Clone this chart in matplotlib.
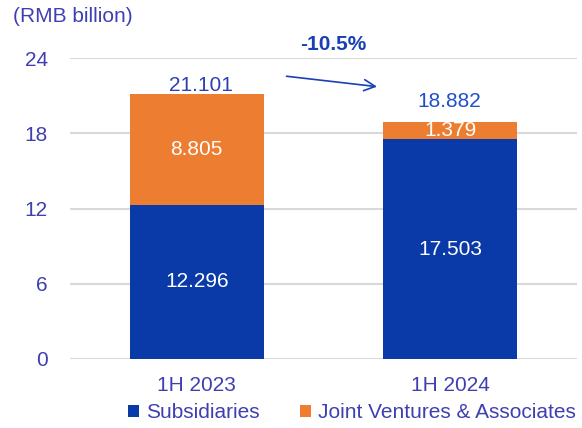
import matplotlib
matplotlib.use("Agg")
import matplotlib.pyplot as plt

plt.rcParams['font.family'] = ['Liberation Sans', 'DejaVu Sans']

categories = ["1H 2023", "1H 2024"]
subsidiaries = [12.296, 17.503]
joint_ventures = [8.805, 1.379]
totals = [21.101, 18.882]
change_label = "-10.5%"
y_ticks = [0, 6, 12, 18, 24]
series_names = ["Subsidiaries", "Joint Ventures & Associates"]

blue = "#0A3AA8"
orange = "#ED7D31"
text_col = "#3F3FB2"
grid_col = "#D9D9D9"
fs = 15

fig = plt.figure(figsize=(5.82, 4.28), dpi=100)
ax = fig.add_axes([70 / 582, 69 / 428, 507 / 582, 301 / 428])

x = list(range(len(categories)))
width = 0.53
b1 = ax.bar(x, subsidiaries, width, color=blue, label=series_names[0], zorder=3)
b2 = ax.bar(x, joint_ventures, width, bottom=subsidiaries, color=orange,
            label=series_names[1], zorder=3)

ax.set_xlim(-0.5, 1.5)
ax.set_ylim(0, 24)
ax.set_yticks(y_ticks)
ax.set_yticklabels([str(t) for t in y_ticks])
ax.set_xticks(x)
ax.set_xticklabels(categories)
ax.tick_params(axis='both', length=0, labelsize=fs, colors=text_col)
ax.tick_params(axis='y', pad=16)
ax.tick_params(axis='x', pad=12)
for s in ax.spines.values():
    s.set_visible(False)
ax.yaxis.grid(True, color=grid_col, linewidth=1.5, zorder=0)
ax.set_axisbelow(True)

# segment values inside the bars
for i in x:
    ax.text(i, subsidiaries[i] / 2, f"{subsidiaries[i]:.3f}", ha='center', va='center',
            color='white', fontsize=fs, zorder=4)
    ax.text(i, subsidiaries[i] + joint_ventures[i] / 2, f"{joint_ventures[i]:.3f}",
            ha='center', va='center', color='white', fontsize=fs, zorder=4)

# totals above the bars
total_cols = ["#3040B0", "#1F4FC8"]
total_dx = [0.016, -0.005]
total_gap = [0.3, 1.22]
for i in x:
    ax.text(i + total_dx[i], totals[i] + total_gap[i], f"{totals[i]:.3f}", ha='center',
            va='baseline', color=total_cols[i], fontsize=fs, zorder=4)

# change arrow and label
ax.annotate("", xy=(0.722, 21.69), xytext=(0.343, 22.57),
            arrowprops=dict(arrowstyle="->,head_length=0.8,head_width=0.4",
                            color="#1A40B8", lw=1.2),
            annotation_clip=False)
ax.text(0.54, 25.1, change_label, ha='center', va='center', color="#1A40B8",
        fontsize=fs, fontweight='bold', clip_on=False)

fig.text(13 / 582, 1 - 17 / 428, "(RMB billion)", ha='left', va='center',
         color=text_col, fontsize=fs)

leg = fig.legend(handles=[b1, b2], labels=series_names, loc='center',
                 bbox_to_anchor=(352 / 582, 1 - 413 / 428), ncol=2, frameon=False,
                 fontsize=fs, handlelength=0.5, handleheight=0.5, handletextpad=0.35,
                 columnspacing=1.95, borderpad=0)
for t in leg.get_texts():
    t.set_color(text_col)

fig.savefig("out.png", dpi=100)
